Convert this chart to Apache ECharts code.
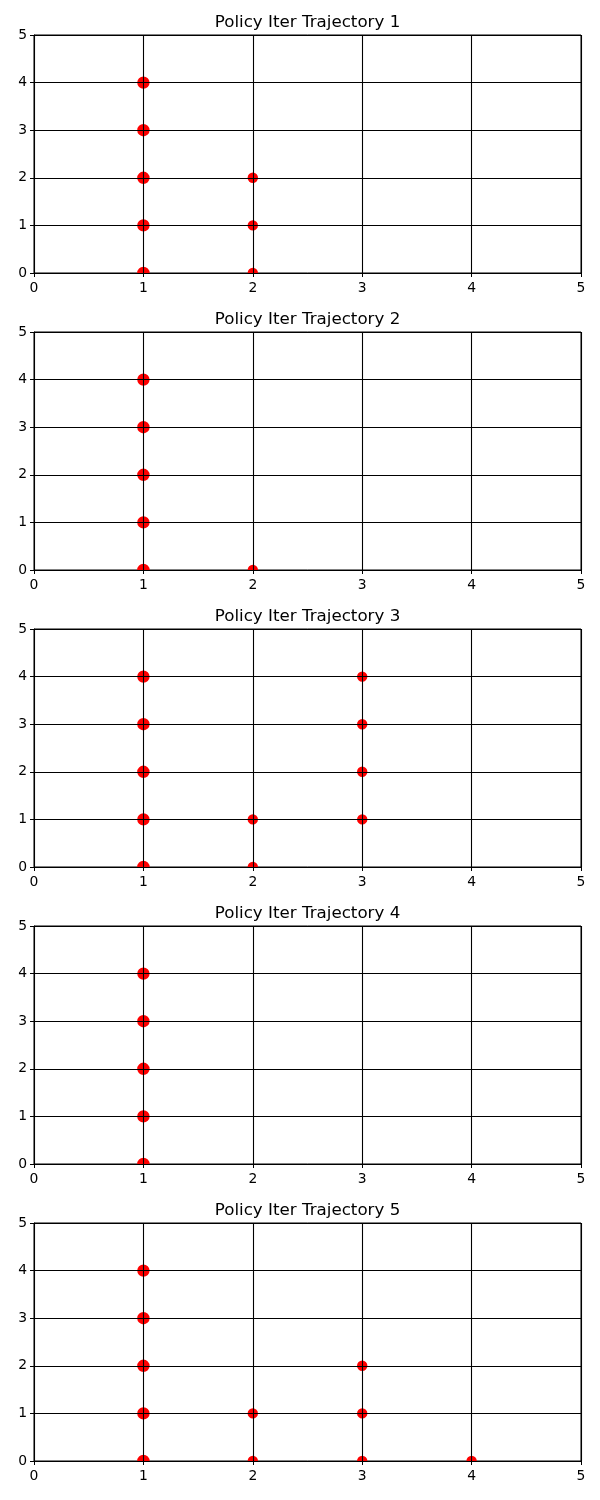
<!DOCTYPE html>
<html><head><meta charset="utf-8">
<script src="https://cdn.jsdelivr.net/npm/echarts@6/dist/echarts.min.js"></script>
<style>html,body{margin:0;padding:0;background:#fff}#c{width:600px;height:1500px}</style>
</head><body><div id="c"></div>
<script>
const titles = ['Policy Iter Trajectory 1','Policy Iter Trajectory 2','Policy Iter Trajectory 3','Policy Iter Trajectory 4','Policy Iter Trajectory 5'];
const ticks = [0,1,2,3,4,5];
const traj1 = [[1,0],[1,1],[1,2],[1,3],[1,4],[2,2],[2,1],[2,0]];
const traj2 = [[1,0],[1,1],[1,2],[1,3],[1,4],[2,0]];
const traj3 = [[1,0],[1,1],[1,2],[1,3],[1,4],[2,1],[2,0],[3,1],[3,2],[3,3],[3,4]];
const traj4 = [[1,0],[1,1],[1,2],[1,3],[1,4]];
const traj5 = [[1,0],[1,1],[1,2],[1,3],[1,4],[2,1],[2,0],[3,0],[3,1],[3,2],[4,0]];
const trajs = [traj1,traj2,traj3,traj4,traj5];

const chart = echarts.init(document.getElementById('c'), null, {renderer:'canvas'});
const font = 'DejaVu Sans';
const grids=[], xAxes=[], yAxes=[], series=[], titleOpts=[];
const L=34, W=547, H=238, T0=35, STEP=297;
trajs.forEach((d,i)=>{
  grids.push({left:L, top:T0+i*STEP, width:W, height:H, show:true, borderColor:'#000', borderWidth:1, backgroundColor:'transparent'});
  const axCommon = {gridIndex:i, type:'value', min:ticks[0], max:ticks[ticks.length-1], interval:1, z:5,
    axisLine:{show:true, onZero:false, lineStyle:{color:'#000', width:1}},
    axisTick:{show:true, length:4, lineStyle:{color:'#000', width:1}},
    splitLine:{show:true, lineStyle:{color:'#000', width:1.1}},
    axisLabel:{color:'#000', fontFamily:font, fontSize:13.9}};
  xAxes.push(Object.assign({}, axCommon, {axisLabel:Object.assign({}, axCommon.axisLabel, {margin:8})}));
  yAxes.push(Object.assign({}, axCommon, {axisLabel:Object.assign({}, axCommon.axisLabel, {margin:7})}));
  titleOpts.push({text:titles[i], left:L+W/2, top:T0+i*STEP-20.5, textAlign:'center', padding:0,
    textStyle:{color:'#000', fontFamily:font, fontSize:16.7, fontWeight:'normal'}});
  series.push({type:'custom', xAxisIndex:i, yAxisIndex:i, clip:true, z:1, data:d,
    renderItem:(params, api)=>{
      const p = api.coord([api.value(0), api.value(1)]);
      const r = api.value(0)===1 ? 6.2 : 5.2;
      return {type:'circle', shape:{cx:p[0], cy:p[1], r:r}, style:{fill:'#ff0000', stroke:null}};
    }});
});
chart.setOption({animation:false, title:titleOpts, grid:grids, xAxis:xAxes, yAxis:yAxes, series:series});
</script></body></html>
